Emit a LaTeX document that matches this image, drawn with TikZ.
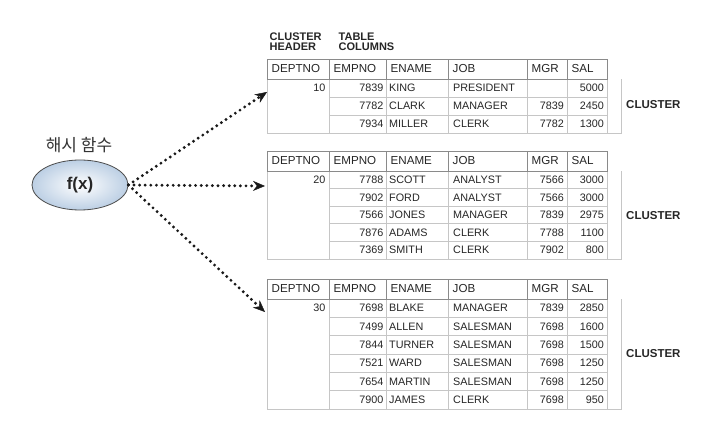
\documentclass[tikz,border=0pt]{standalone}
\usepackage{fontspec}
\setmainfont{Liberation Sans}
\newfontfamily\krfont{Noto Sans CJK KR}
\usetikzlibrary{arrows.meta,shapes.geometric}

\definecolor{txt}{HTML}{262626}
\definecolor{hdrline}{HTML}{8A8A8A}
\definecolor{bodyline}{HTML}{C6C6C6}
\definecolor{ellfill}{HTML}{BCCFE4}

\tikzset{
  cell/.style={inner sep=0pt, text=txt, font=\fontsize{10.8}{12}\selectfont},
  hcell/.style={inner sep=0pt, anchor=west, text=txt, font=\fontsize{11.6}{13}\selectfont},
  hdr/.style={draw=hdrline, line width=0.8pt},
  bodygrid/.style={draw=bodyline, line width=0.6pt},
  toplbl/.style={inner sep=0pt, anchor=base west, text=txt,
    font=\bfseries\fontsize{11}{12}\selectfont},
  clusterlbl/.style={inner sep=0pt, anchor=west, text=txt, font=\bfseries\fontsize{11.5}{13}\selectfont},
  hashfn/.style={ellipse, draw=black!70, line width=0.8pt, inner color=white, outer color=ellfill,
    minimum width=96pt, minimum height=50pt, inner sep=0pt,
    font=\bfseries\fontsize{17}{20}\selectfont, text=txt},
  hasharrow/.style={draw=black!90, line width=3.2pt, line cap=round, dash pattern=on 0pt off 5.6pt,
    -{Stealth[length=12pt,width=10pt,line width=0.4pt]}}
}

% #1 name, #2 top y, #3 row height, #4 number of rows, #5 deptno
\newcommand\ctable[5]{%
  \pgfmathsetmacro\hb{#2+20}%
  \pgfmathsetmacro\bb{#2+20+#3*#4}%
  \pgfmathtruncatemacro\nm{#4-1}%
  \draw[bodygrid] (267,\hb) -- (267,\bb) -- (621,\bb) -- (621,\hb);
  \foreach \x in {329,386,448,527,567,607}{\draw[bodygrid] (\x,\hb) -- (\x,\bb);}
  \foreach \i in {1,...,\nm}{\draw[bodygrid] (329,\hb+\i*#3) -- (607,\hb+\i*#3);}
  \foreach \xa/\xb/\lab in {267/329/DEPTNO,329/386/EMPNO,386/448/ENAME,448/527/JOB,527/567/MGR,567/607/SAL}{
    \draw[hdr] (\xa,#2) rectangle (\xb,\hb);
    \node[hcell] (#1h\lab) at (\xa+4.5,#2+10) {\lab};
  }
  \node[cell,anchor=east] (#1dept) at (325.5,\hb+#3/2) {#5};
}
% #1 name, #2 y centre, #3 empno, #4 ename, #5 job, #6 mgr, #7 sal
\newcommand\erow[7]{%
  \node[cell,anchor=east] (#1empno) at (383.5,#2) {#3};
  \node[cell,anchor=west] (#1ename) at (389,#2) {#4};
  \node[cell,anchor=west] (#1job) at (453,#2) {#5};
  \node[cell,anchor=east] (#1mgr) at (564,#2) {#6};
  \node[cell,anchor=east] (#1sal) at (604,#2) {#7};
}

\begin{document}
\begin{tikzpicture}[x=1pt,y=-1pt]
\useasboundingbox[fill=white] (0,0) rectangle (715,427);

\node[toplbl] (chead1) at (269.5,41) {CLUSTER};
\node[toplbl] (chead2) at (269.5,50.5) {HEADER};
\node[toplbl] (tcols1) at (338.5,41) {TABLE};
\node[toplbl] (tcols2) at (338.5,50.5) {COLUMNS};

% table 1
\ctable{t1}{59}{18}{3}{10}
\erow{t1r1}{88}{7839}{KING}{PRESIDENT}{}{5000}
\erow{t1r2}{106}{7782}{CLARK}{MANAGER}{7839}{2450}
\erow{t1r3}{124}{7934}{MILLER}{CLERK}{7782}{1300}
\node[clusterlbl] (cl1) at (626,105) {CLUSTER};

% table 2
\ctable{t2}{151}{17.6}{5}{20}
\erow{t2r1}{179.8}{7788}{SCOTT}{ANALYST}{7566}{3000}
\erow{t2r2}{197.4}{7902}{FORD}{ANALYST}{7566}{3000}
\erow{t2r3}{215}{7566}{JONES}{MANAGER}{7839}{2975}
\erow{t2r4}{232.6}{7876}{ADAMS}{CLERK}{7788}{1100}
\erow{t2r5}{250.2}{7369}{SMITH}{CLERK}{7902}{800}
\node[clusterlbl] (cl2) at (626,216) {CLUSTER};

% table 3
\ctable{t3}{279}{18.33}{6}{30}
\erow{t3r1}{308.2}{7698}{BLAKE}{MANAGER}{7839}{2850}
\erow{t3r2}{326.5}{7499}{ALLEN}{SALESMAN}{7698}{1600}
\erow{t3r3}{344.8}{7844}{TURNER}{SALESMAN}{7698}{1500}
\erow{t3r4}{363.2}{7521}{WARD}{SALESMAN}{7698}{1250}
\erow{t3r5}{381.5}{7654}{MARTIN}{SALESMAN}{7698}{1250}
\erow{t3r6}{399.8}{7900}{JAMES}{CLERK}{7698}{950}
\node[clusterlbl] (cl3) at (626,354) {CLUSTER};

% hash function
\node[font=\krfont\fontsize{17}{20}\selectfont, text=black!80] (hashlbl) at (79,145) {해시 함수};
\node[hashfn] (fx) at (80,185) {f(x)};

\coordinate (in1) at (267,92);
\coordinate (in2) at (265,186);
\coordinate (in3) at (265,312);
\draw[hasharrow] (fx.east) -- (in1);
\draw[hasharrow] (fx.east) -- (in2);
\draw[hasharrow] (fx.east) -- (in3);
\end{tikzpicture}
\end{document}
